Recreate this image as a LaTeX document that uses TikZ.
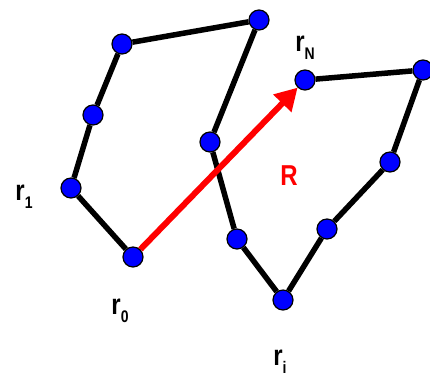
\documentclass[tikz,border=0pt]{standalone}
\usepackage{fontspec}
\setmainfont{Liberation Sans}
\usepackage{graphicx}
\usetikzlibrary{arrows.meta,backgrounds}
\newcommand{\rsub}[1]{\scalebox{1}[1.2]{r\raisebox{-0.28em}{\fontsize{14}{14}\selectfont\bfseries #1}}}
\tikzset{
  bead/.style={circle, fill=blue, draw=black, line width=1.2pt, inner sep=0pt, minimum size=20pt},
  lbl/.style={font=\fontsize{24}{24}\selectfont\bfseries, inner sep=0pt},
  chain/.style={line width=5.5pt, black}
}
\begin{document}
\begin{tikzpicture}[x=1pt, y=-1pt]
  \useasboundingbox (0,0) rectangle (430,376);
  % beads of the chain
  \node[bead] (r0) at (133,257) {};
  \node[bead] (r1) at (71,188) {};
  \node[bead] (r2) at (93,115) {};
  \node[bead] (r3) at (122,44) {};
  \node[bead] (r4) at (259,20) {};
  \node[bead] (r5) at (210,142) {};
  \node[bead] (r6) at (237,239) {};
  \node[bead] (ri) at (283,300) {};
  \node[bead] (r8) at (327,229) {};
  \node[bead] (r9) at (390,162) {};
  \node[bead] (r10) at (423,70) {};
  \node[bead] (rN) at (305,80) {};
  % labels
  \node[lbl] (l1) at (24,197) {\rsub{1}};
  \node[lbl] (l0) at (120,311) {\rsub{0}};
  \node[lbl] (li) at (280,362) {\rsub{i}};
  \node[lbl] (lN) at (305,48) {\rsub{N}};
  \node[lbl, text=red] (lR) at (289,176) {\scalebox{1}[1.2]{R}};
  \begin{scope}[on background layer]
    \draw[chain] (r0) -- (r1) -- (r2) -- (r3) -- (r4) -- (r5) -- (r6)
      -- (ri) -- (r8) -- (r9) -- (r10) -- (rN);
    \draw[red, line width=6pt, -{Triangle[length=22pt,width=24pt]}] (r0) -- (rN);
  \end{scope}
\end{tikzpicture}
\end{document}
